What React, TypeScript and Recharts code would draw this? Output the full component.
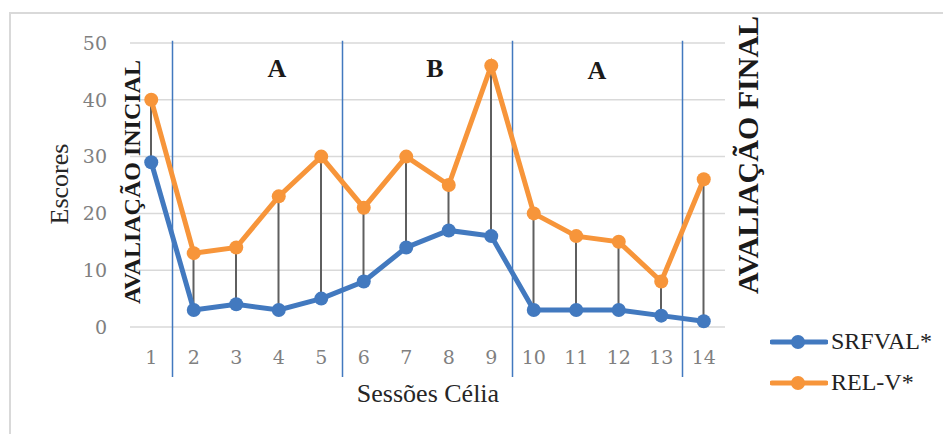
import React from 'react';
import {
  ComposedChart,
  Line,
  Bar,
  XAxis,
  YAxis,
  CartesianGrid,
  ReferenceLine,
  Legend,
  Customized,
} from 'recharts';

// sessions and scores
const sessions = [1, 2, 3, 4, 5, 6, 7, 8, 9, 10, 11, 12, 13, 14];
const srfval = [29, 3, 4, 3, 5, 8, 14, 17, 16, 3, 3, 3, 2, 1];
const relv = [40, 13, 14, 23, 30, 21, 30, 25, 46, 20, 16, 15, 8, 26];
const seriesNames = ['SRFVAL*', 'REL-V*'];

const yTicks = [0, 10, 20, 30, 40, 50];
const phaseBreaks = [1.5, 5.5, 9.5, 13.5];

const BLUE = '#4279BF';
const ORANGE = '#F7953A';
const serif = '"Liberation Serif", "Times New Roman", serif';
const tickFont = '"DejaVu Serif", serif';

const data = sessions.map((s, i) => ({
  session: s,
  srfval: srfval[i],
  relv: relv[i],
}));

const Annotations = () => (
  <g>
    <text x={277} y={77} textAnchor="middle" fontFamily={serif} fontWeight="bold" fontSize={26} fill="#1a1a1a">A</text>
    <text x={435} y={77} textAnchor="middle" fontFamily={serif} fontWeight="bold" fontSize={26} fill="#1a1a1a">B</text>
    <text x={597} y={79} textAnchor="middle" fontFamily={serif} fontWeight="bold" fontSize={26} fill="#1a1a1a">A</text>
    <text
      x={140}
      y={182}
      transform="rotate(-90 140 182)"
      textAnchor="middle"
      fontFamily={serif}
      fontWeight="bold"
      fontSize={24}
      fill="#1a1a1a"
    >
      AVALIAÇÃO INICIAL
    </text>
    <text
      x={758}
      y={155}
      transform="rotate(-90 758 155)"
      textAnchor="middle"
      fontFamily={serif}
      fontWeight="bold"
      fontSize={30}
      fill="#1a1a1a"
    >
      AVALIAÇÃO FINAL
    </text>
    <text
      x={68}
      y={184}
      transform="rotate(-90 68 184)"
      textAnchor="middle"
      fontFamily={serif}
      fontSize={26}
      fill="#262626"
    >
      Escores
    </text>
    <text x={428} y={402} textAnchor="middle" fontFamily={serif} fontSize={26} fill="#262626">
      Sessões Célia
    </text>
  </g>
);

const LegendBox = (props: any) => {
  const items = (props.payload || [])
    .filter((p: any) => p.type !== 'none')
    .sort((a: any, b: any) => seriesNames.indexOf(a.value) - seriesNames.indexOf(b.value));
  return (
    <div>
      {items.map((p: any) => (
        <div key={p.value} style={{ display: 'flex', alignItems: 'center', height: 41 }}>
          <svg width={58} height={16}>
            <line x1={2} y1={8} x2={56} y2={8} stroke={p.color} strokeWidth={5} strokeLinecap="round" />
            <circle cx={28} cy={8} r={7} fill={p.color} />
          </svg>
          <span style={{ fontFamily: serif, fontSize: 24, color: '#222', marginLeft: 3 }}>{p.value}</span>
        </div>
      ))}
    </div>
  );
};

export default function App() {
  return (
    <div style={{ position: 'absolute', left: 0, top: 0, width: 943, height: 434, overflow: 'hidden', background: '#fff' }}>
      <div
        style={{
          position: 'absolute',
          left: 9,
          top: 12,
          width: 1000,
          height: 500,
          border: '2px solid #D9D9D9',
        }}
      />
      <div style={{ position: 'absolute', left: 0, top: 0 }}>
        <ComposedChart width={943} height={434} data={data} margin={{ top: 43, right: 218, left: 0, bottom: 47 }}>
          <CartesianGrid vertical={false} stroke="#D9D9D9" strokeWidth={1.5} />
          <XAxis
            dataKey="session"
            type="number"
            domain={[0.5, 14.5]}
            ticks={sessions}
            allowDataOverflow
            axisLine={false}
            tickLine={false}
            tickMargin={18}
            height={60}
            tick={{ fontFamily: tickFont, fontSize: 19, fill: '#808080' }}
          />
          <YAxis
            domain={[0, 50]}
            ticks={yTicks}
            axisLine={false}
            tickLine={false}
            tickMargin={17}
            width={130}
            tick={{ fontFamily: tickFont, fontSize: 19, fill: '#808080' }}
          />
          {phaseBreaks.map((x) => (
            <ReferenceLine
              key={x}
              segment={[
                { x, y: 50.4 },
                { x, y: -8.8 },
              ]}
              ifOverflow="visible"
              stroke={BLUE}
              strokeWidth={1.5}
            />
          ))}
          <Line
            type="linear"
            dataKey="srfval"
            name={seriesNames[0]}
            stroke={BLUE}
            strokeWidth={5}
            dot={{ r: 7, fill: BLUE, stroke: 'none' }}
            activeDot={false}
            isAnimationActive={false}
          />
          <Line
            type="linear"
            dataKey="relv"
            name={seriesNames[1]}
            stroke={ORANGE}
            strokeWidth={5}
            dot={{ r: 7, fill: ORANGE, stroke: 'none' }}
            activeDot={false}
            isAnimationActive={false}
          />
          <Bar
            dataKey={(d: any) => [d.srfval, d.relv]}
            barSize={2}
            fill="#5f5f5f"
            legendType="none"
            isAnimationActive={false}
          />
          <Legend
            layout="horizontal"
            verticalAlign="middle"
            align="center"
            content={LegendBox}
            wrapperStyle={{ left: 770, top: 321, width: 170 }}
          />
          <Customized component={Annotations} />
        </ComposedChart>
      </div>
    </div>
  );
}
